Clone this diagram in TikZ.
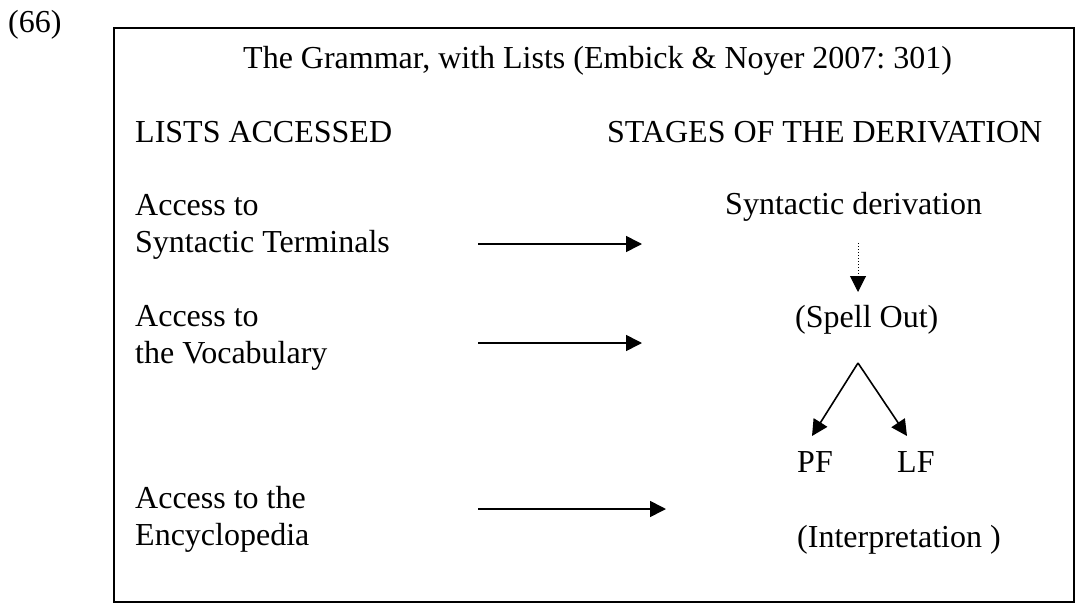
\documentclass[tikz,border=0pt]{standalone}
\usepackage{fontspec}
\setmainfont{Liberation Serif}
\usetikzlibrary{arrows.meta}
\frenchspacing
\begin{document}
\begin{tikzpicture}[x=1pt,y=-1pt,
  txt/.style={anchor=base west,inner sep=0pt,font=\fontsize{32}{37}\selectfont},
  arr/.style={line width=1.6pt,-{Triangle[length=16pt,width=16pt]}},
  dotarr/.style={line width=1pt,dotted,-{Triangle[length=16pt,width=16pt]}},
  frame/.style={line width=1.6pt}]
\useasboundingbox (0,0) rectangle (1076,610);
\draw[frame] (114,28) rectangle (1074,602);
\node[txt] (num) at (8,33) {(66)};
\node[txt] (title) at (243,68) {The Grammar, with Lists (Embick \& Noyer 2007: 301)};
\node[txt] (lists) at (135,142) {LISTS ACCESSED};
\node[txt] (stages) at (607,142) {STAGES OF THE DERIVATION};
\node[txt] (acc1) at (135,215) {Access to};
\node[txt] (acc1b) at (135,252) {Syntactic Terminals};
\node[txt] (synder) at (725,214) {Syntactic derivation};
\node[txt] (acc2) at (135,326) {Access to};
\node[txt] (acc2b) at (135,363) {the Vocabulary};
\node[txt] (spell) at (795,327) {(Spell Out)};
\node[txt] (pf) at (797,472) {PF};
\node[txt] (lf) at (897,472) {LF};
\node[txt] (acc3) at (135,508) {Access to the};
\node[txt] (acc3b) at (135,545) {Encyclopedia};
\node[txt] (interp) at (797,547) {(Interpretation )};
\coordinate (a1s) at (478,244); \coordinate (a1e) at (642,244);
\coordinate (a2s) at (478,343); \coordinate (a2e) at (642,343);
\coordinate (a3s) at (478,509); \coordinate (a3e) at (666,509);
\coordinate (ds) at (858,243); \coordinate (de) at (858,292);
\coordinate (apex) at (858,363);
\coordinate (pft) at (812,436); \coordinate (lft) at (907,436);
\draw[arr] (a1s) -- (a1e);
\draw[arr] (a2s) -- (a2e);
\draw[arr] (a3s) -- (a3e);
\draw[dotarr] (ds) -- (de);
\draw[arr] (apex) -- (pft);
\draw[arr] (apex) -- (lft);
\end{tikzpicture}
\end{document}
